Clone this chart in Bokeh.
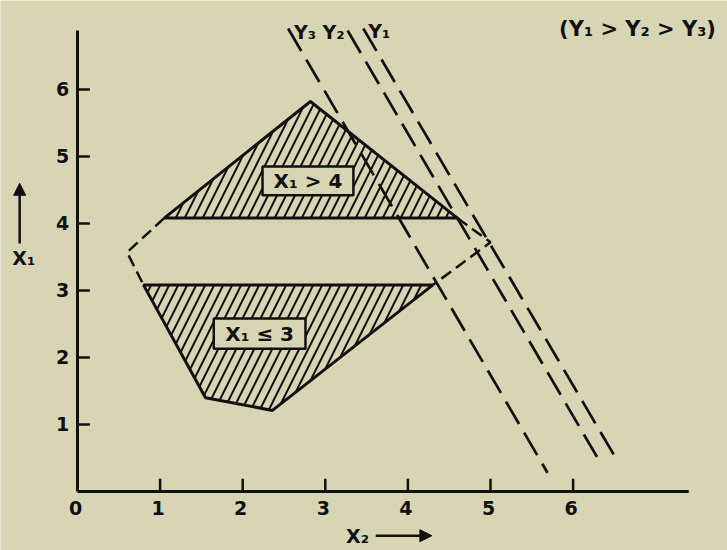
from bokeh.plotting import figure
from bokeh.models import Range1d, Arrow, NormalHead
from bokeh.core.properties import value
from bokeh.embed import file_html
from bokeh.resources import INLINE

# ---- data ----------------------------------------------------------------
x_ticks = [1, 2, 3, 4, 5, 6]
y_ticks = [1, 2, 3, 4, 5, 6]

# feasible region split by the X1 constraints
upper_x = [1.05, 2.82, 4.60]          # X1 > 4 part
upper_y = [4.08, 5.82, 4.08]
lower_x = [0.80, 4.30, 2.36, 1.55]    # X1 <= 3 part
lower_y = [3.08, 3.08, 1.21, 1.40]

# dashed hull pieces between the two parts
left_hull_x = [1.05, 0.60, 0.80]
left_hull_y = [4.08, 3.57, 3.08]
right_hull_x = [4.60, 5.00, 4.30]
right_hull_y = [4.08, 3.72, 3.08]

# iso-objective lines
iso_names = ["Y₃", "Y₂", "Y₁"]
iso_x0 = [2.55, 3.27, 3.46]
iso_y0 = [6.91, 6.88, 6.91]
iso_x1 = [5.69, 6.33, 6.54]
iso_y1 = [0.28, 0.43, 0.45]

BG = "#d7d5b3"
INK = "#111111"
FONT = value("DejaVu Sans")

p = figure(width=727, height=550, output_backend="svg", toolbar_location=None,
           x_range=Range1d(-0.932, 7.869), y_range=Range1d(-0.881, 7.328),
           min_border=0, background_fill_color=BG, border_fill_color=BG,
           outline_line_color=None)
p.xaxis.visible = False
p.yaxis.visible = False
p.grid.visible = False

# axes
p.segment(x0=[0, 0], y0=[0, 0], x1=[0, 7.4], y1=[6.88, 0], line_color=INK, line_width=3)
p.segment(x0=[0] * len(y_ticks), y0=y_ticks, x1=[0.15] * len(y_ticks), y1=y_ticks,
          line_color=INK, line_width=2.5)
p.segment(x0=x_ticks, y0=[0] * len(x_ticks), x1=x_ticks, y1=[0.19] * len(x_ticks),
          line_color=INK, line_width=2.5)

p.text(x=[-0.18] * len(y_ticks), y=y_ticks, text=[str(t) for t in y_ticks],
       text_font=FONT, text_font_style="bold", text_font_size="19px",
       text_align="center", text_baseline="middle", text_color=INK)
p.text(x=[0] + x_ticks, y=[-0.24] * (len(x_ticks) + 1), text=["0"] + [str(t) for t in x_ticks],
       text_font=FONT, text_font_style="bold", text_font_size="19px",
       text_align="center", text_baseline="middle", text_color=INK, x_offset=-2)

# hatched regions
for xs, ys in ((upper_x, upper_y), (lower_x, lower_y)):
    p.patch(xs, ys, fill_alpha=0, line_color=INK, line_width=3,
            hatch_pattern="/", hatch_color=INK, hatch_scale=18, hatch_weight=2)

# dashed hull
for xs, ys in ((left_hull_x, left_hull_y), (right_hull_x, right_hull_y)):
    p.line(xs, ys, line_color=INK, line_width=2.5, line_dash="12 6")

# iso lines
p.segment(x0=iso_x0, y0=iso_y0, x1=iso_x1, y1=iso_y1,
          line_color=INK, line_width=2.7, line_dash="26 10")
p.text(x=iso_x0, y=iso_y0, text=iso_names, text_font=FONT, text_font_style="bold",
       text_font_size="19px", text_baseline="middle", text_align="center",
       x_offset=[17, -14, 16], y_offset=[3, 1, 2], text_color=INK)

# constraint labels in boxes
box_l = [2.24, 1.65]
box_r = [3.34, 2.76]
box_b = [4.42, 2.13]
box_t = [4.85, 2.58]
box_text = ["X₁ > 4", "X₁ ≤ 3"]
p.quad(left=box_l, right=box_r, bottom=box_b, top=box_t,
       fill_color=BG, line_color=INK, line_width=2.5)
p.text(x=[(l + r) / 2 for l, r in zip(box_l, box_r)],
       y=[(b + t) / 2 for b, t in zip(box_b, box_t)], text=box_text,
       text_font=FONT, text_font_style="bold", text_font_size="20px",
       text_align="center", text_baseline="middle", text_color=INK)

# ordering note
p.text(x=[6.78], y=[6.9], text=["(Y₁ > Y₂ > Y₃)"], text_font=FONT,
       text_font_style="bold", text_font_size="21px", text_align="center",
       text_baseline="middle", text_color=INK)

# axis names with arrows
p.text(x=[-0.65, 3.39], y=[3.49, -0.66], text=["X₁", "X₂"], text_font=FONT,
       text_font_style="bold", text_font_size="19px", text_align="center",
       text_baseline="middle", text_color=INK)
head = dict(size=12, fill_color=INK, line_color=INK)
p.add_layout(Arrow(end=NormalHead(**head), x_start=-0.70, y_start=3.70,
                   x_end=-0.70, y_end=4.60, line_color=INK, line_width=2.5))
p.add_layout(Arrow(end=NormalHead(**head), x_start=3.61, y_start=-0.66,
                   x_end=4.29, y_end=-0.66, line_color=INK, line_width=2.5))

open("out.html", "w").write(file_html(p, INLINE))
